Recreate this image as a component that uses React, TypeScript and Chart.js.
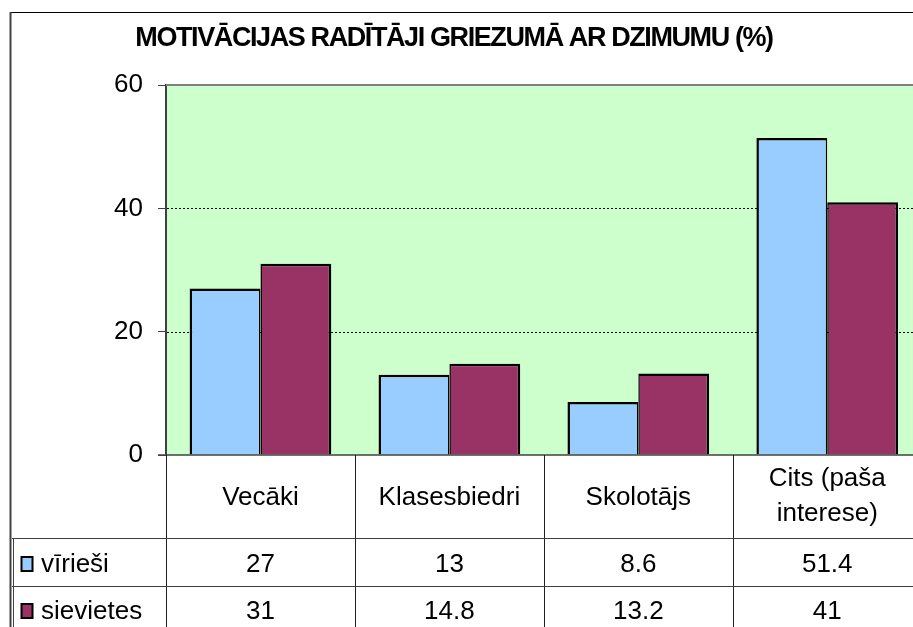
import React, { useEffect, useRef } from "react";
import { Chart, registerables } from "chart.js";

Chart.register(...registerables);

const title = "MOTIVĀCIJAS RADĪTĀJI GRIEZUMĀ AR DZIMUMU (%)";
const categories: string[][] = [["Vecāki"], ["Klasesbiedri"], ["Skolotājs"], ["Cits (paša", "interese)"]];
const seriesNames = ["vīrieši", "sievietes"];
const virieti = [27, 13, 8.6, 51.4];
const sievietes = [31, 14.8, 13.2, 41];
const tableRows = [
  ["27", "13", "8.6", "51.4"],
  ["31", "14.8", "13.2", "41"],
];
const gridValues = [20, 40];
const colors = ["#99CCFF", "#993366"];

const FONT = '"Liberation Sans", Arial, sans-serif';

const decor = {
  id: "decor",
  beforeDraw(chart: any) {
    const { ctx, chartArea: a } = chart;
    ctx.save();
    ctx.fillStyle = "#ffffff";
    ctx.fillRect(0, 0, chart.width, chart.height);
    ctx.fillStyle = "#CCFFCC";
    ctx.fillRect(a.left, a.top, a.right - a.left, a.bottom - a.top);
    ctx.restore();
  },
  beforeDatasetsDraw(chart: any) {
    const { ctx, chartArea: a, scales } = chart;
    const y = scales.y;
    ctx.save();
    ctx.strokeStyle = "#000";
    ctx.lineWidth = 1;
    ctx.setLineDash([2, 2]);
    gridValues.forEach((v) => {
      const py = Math.round(y.getPixelForValue(v)) + 0.5;
      ctx.beginPath();
      ctx.moveTo(a.left + 1, py);
      ctx.lineTo(a.right, py);
      ctx.stroke();
    });
    ctx.setLineDash([]);
    ctx.strokeStyle = "#808080";
    ctx.lineWidth = 2;
    const top = y.getPixelForValue(60);
    ctx.beginPath();
    ctx.moveTo(a.left, top);
    ctx.lineTo(a.right, top);
    ctx.stroke();
    ctx.beginPath();
    ctx.moveTo(a.right, top);
    ctx.lineTo(a.right, a.bottom);
    ctx.stroke();
    ctx.restore();
  },
  afterDraw(chart: any) {
    const { ctx, chartArea: a, scales } = chart;
    const x = scales.x;
    ctx.save();
    // title
    ctx.fillStyle = "#000";
    ctx.font = `bold 27px ${FONT}`;
    try {
      (ctx as any).letterSpacing = "-1.4px";
    } catch (e) {}
    ctx.textAlign = "center";
    ctx.textBaseline = "alphabetic";
    ctx.fillText(title, 454, 46);
    try {
      (ctx as any).letterSpacing = "0px";
    } catch (e) {}

    // outer border
    ctx.strokeStyle = "#000";
    ctx.lineWidth = 1;
    ctx.beginPath();
    ctx.moveTo(10, 12.5);
    ctx.lineTo(chart.width, 12.5);
    ctx.stroke();
    ctx.strokeStyle = "#404040";
    ctx.lineWidth = 2;
    ctx.beginPath();
    ctx.moveTo(10.5, 12);
    ctx.lineTo(10.5, chart.height);
    ctx.stroke();

    // x axis line
    const zeroY = scales.y.getPixelForValue(0);
    ctx.strokeStyle = "#404040";
    ctx.lineWidth = 1.5;
    ctx.beginPath();
    ctx.moveTo(a.left - 8, zeroY);
    ctx.lineTo(a.right, zeroY);
    ctx.stroke();

    const n = categories.length;
    const catW = (a.right - a.left) / n;
    const row1 = 538.5;
    const row2 = 586.5;

    ctx.strokeStyle = "#202020";
    ctx.lineWidth = 1;
    for (let i = 0; i <= n; i++) {
      const cx = Math.round(x.getPixelForValue(Math.min(i, n - 1)) + (i === n ? catW / 2 : -catW / 2)) + 0.5;
      ctx.beginPath();
      ctx.moveTo(cx, zeroY);
      ctx.lineTo(cx, chart.height);
      ctx.stroke();
    }
    ctx.strokeStyle = "#404040";
    [row1, row2].forEach((ry) => {
      ctx.beginPath();
      ctx.moveTo(12, ry);
      ctx.lineTo(chart.width, ry);
      ctx.stroke();
    });
    ctx.beginPath();
    ctx.moveTo(13.5, row1);
    ctx.lineTo(13.5, chart.height);
    ctx.stroke();

    // category labels
    ctx.font = `26px ${FONT}`;
    ctx.fillStyle = "#000";
    ctx.textAlign = "center";
    categories.forEach((lines, i) => {
      const cx = x.getPixelForValue(i);
      if (lines.length === 1) {
        ctx.fillText(lines[0], cx, 505);
      } else {
        ctx.fillText(lines[0], cx, 486);
        ctx.fillText(lines[1], cx, 521);
      }
    });
    const baselines = [572, 619];
    tableRows.forEach((row, r) => {
      row.forEach((t, i) => {
        ctx.fillText(t, x.getPixelForValue(i), baselines[r]);
      });
    });
    ctx.textAlign = "left";
    seriesNames.forEach((name, r) => {
      const top = baselines[r] - 15;
      ctx.fillStyle = colors[r];
      ctx.fillRect(21.5, top, 11, 14);
      ctx.strokeStyle = "#000";
      ctx.lineWidth = 2;
      ctx.strokeRect(21.5, top, 11, 14);
      ctx.fillStyle = "#000";
      ctx.fillText(name, 41, baselines[r]);
    });
    ctx.restore();
  },
};

export default function App() {
  const ref = useRef<HTMLCanvasElement | null>(null);
  useEffect(() => {
    if (!ref.current) return;
    const chart = new Chart(ref.current, {
      type: "bar",
      data: {
        labels: categories.map((c) => c.join(" ")),
        datasets: [
          {
            label: seriesNames[0],
            data: virieti,
            backgroundColor: colors[0],
            borderColor: "#000",
            borderWidth: { left: 2.5, right: 1.5, top: 2.5, bottom: 0 },
            borderSkipped: "start",
            categoryPercentage: 0.75,
            barPercentage: 1.0,
          },
          {
            label: seriesNames[1],
            data: sievietes,
            backgroundColor: colors[1],
            borderColor: "#000",
            borderWidth: { left: 1.5, right: 2.5, top: 2.5, bottom: 0 },
            borderSkipped: "start",
            categoryPercentage: 0.75,
            barPercentage: 1.0,
          },
        ],
      },
      options: {
        responsive: false,
        animation: false,
        layout: { padding: { top: 85, right: 18.3, bottom: 185, left: 0 }, autoPadding: false },
        plugins: {
          legend: { display: false },
          tooltip: { enabled: false },
          title: { display: false },
        },
        scales: {
          x: { display: false },
          y: {
            min: 0,
            max: 60,
            ticks: {
              stepSize: 20,
              color: "#000",
              padding: 15,
              font: { family: FONT, size: 26 },
            },
            grid: {
              drawOnChartArea: false,
              drawTicks: true,
              tickLength: 8,
              tickColor: "#404040",
              tickWidth: 1,
            },
            border: { display: true, color: "#404040", width: 2 },
            afterFit: (s: any) => {
              s.width = 166;
            },
          },
        },
      },
      plugins: [decor],
    });
    return () => chart.destroy();
  }, []);
  return (
    <div style={{ position: "fixed", left: 0, top: 0, width: 913, height: 627, overflow: "hidden", background: "#fff" }}>
      <canvas ref={ref} width={940} height={640} style={{ display: "block" }} />
    </div>
  );
}
